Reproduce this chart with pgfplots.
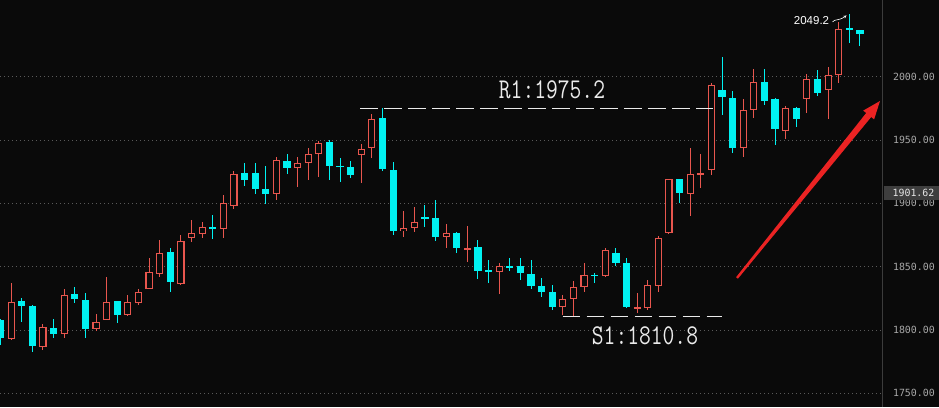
\documentclass[border=0pt]{standalone}
\usepackage{fontspec}
\newfontfamily\tickfont{DejaVu Sans Mono}
\newfontfamily\smallsans{Liberation Sans}
\usepackage{graphicx}
\usepackage{pgfplots}
\usepackage{pgfplotstable}
\pgfplotsset{compat=1.18}
\usetikzlibrary{arrows.meta}
\definecolor{bg}{HTML}{0A0A0A}
\definecolor{upred}{HTML}{E8564E}
\definecolor{downcyan}{HTML}{00F2F2}
\definecolor{gridgray}{HTML}{5A5A5A}
\definecolor{tickgray}{HTML}{A8A8A8}
\definecolor{sepgray}{HTML}{3C3C3C}
\definecolor{boxgray}{HTML}{3E3E3E}
\definecolor{arrowred}{HTML}{EB2323}

% k = candle index, o h l c
\pgfplotstableread{
k o h l c
1 1792.6 1837.3 1792.0 1822.3
4 1786.3 1804.6 1784.1 1802.5
6 1796.8 1832.3 1793.8 1827.6
9 1800.9 1812.6 1799.4 1806.2
10 1808.0 1842.0 1807.5 1822.0
12 1811.8 1827.6 1811.3 1822.0
13 1821.5 1832.3 1819.6 1829.9
14 1832.3 1857.0 1832.0 1845.7
15 1844.1 1871.0 1842.0 1860.7
17 1836.0 1875.0 1835.5 1870.2
18 1872.4 1886.8 1869.7 1876.3
19 1875.5 1885.0 1872.4 1881.0
21 1879.5 1906.6 1872.8 1900.0
22 1897.9 1925.5 1895.5 1923.1
26 1907.1 1936.8 1902.6 1934.2
28 1928.1 1936.3 1913.1 1931.8
29 1931.6 1943.9 1918.4 1938.9
30 1938.7 1949.4 1920.5 1947.4
34 1938.4 1946.6 1915.8 1943.1
35 1943.4 1970.5 1935.5 1966.6
38 1877.9 1893.9 1873.6 1880.2
39 1880.2 1897.1 1877.6 1885.0
42 1873.1 1883.6 1864.5 1876.3
44 1863.1 1882.1 1853.4 1864.5
47 1845.5 1852.6 1828.1 1850.7
53 1817.8 1827.3 1812.0 1824.2
54 1824.2 1838.9 1810.8 1833.6
55 1833.6 1853.1 1830.2 1843.1
57 1842.3 1864.9 1842.0 1862.9
60 1817.0 1829.4 1813.6 1817.8
61 1817.5 1839.4 1815.7 1835.2
62 1834.9 1874.4 1830.2 1872.4
63 1876.5 1919.3 1875.8 1919.0
65 1907.6 1943.4 1890.2 1922.9
66 1923.2 1938.7 1911.8 1923.6
67 1926.1 1994.8 1922.4 1993.4
70 1943.4 1982.6 1936.8 1973.7
71 1973.7 2005.8 1967.1 1995.8
74 1957.3 1977.1 1950.6 1975.0
76 1982.1 2001.9 1971.6 1997.9
78 1989.5 2007.9 1966.4 2001.3
79 2001.3 2043.4 1994.8 2037.7
}\upT

\pgfplotstableread{
k o h l c
0 1807.8 1809.0 1788.0 1793.6
2 1822.8 1825.2 1806.5 1818.9
3 1819.1 1819.6 1782.8 1787.3
5 1801.5 1808.6 1793.8 1796.8
7 1828.3 1834.1 1821.5 1824.4
8 1823.6 1829.1 1793.6 1800.7
11 1822.8 1823.0 1805.2 1811.8
16 1861.8 1864.9 1830.2 1838.1
20 1881.0 1890.8 1871.6 1880.5
23 1923.7 1932.1 1913.7 1918.4
24 1923.7 1932.1 1907.1 1911.5
25 1911.3 1929.5 1899.2 1907.1
27 1933.4 1938.9 1922.9 1928.1
31 1948.4 1950.0 1918.4 1929.7
32 1929.3 1935.5 1917.0 1928.9
33 1928.4 1933.4 1920.2 1922.6
36 1967.1 1975.2 1925.7 1927.1
37 1926.3 1932.6 1875.0 1878.4
40 1888.9 1898.7 1881.5 1888.5
41 1888.6 1902.6 1870.5 1873.6
43 1876.8 1877.3 1861.0 1864.9
45 1865.2 1871.0 1840.0 1846.8
46 1846.7 1855.2 1837.3 1846.3
48 1850.1 1856.6 1846.5 1849.7
49 1850.5 1856.6 1839.4 1844.7
50 1844.1 1855.2 1832.3 1834.9
51 1834.7 1840.7 1825.7 1830.2
52 1829.9 1835.5 1815.7 1817.8
56 1843.3 1845.2 1836.8 1842.9
58 1860.7 1864.4 1850.5 1853.1
59 1852.6 1856.6 1817.5 1817.8
64 1919.0 1919.3 1900.0 1908.4
68 1989.5 2015.3 1969.7 1983.7
69 1983.2 1988.7 1940.0 1943.4
72 1995.8 2006.0 1977.6 1981.0
73 1982.6 1983.2 1946.0 1958.4
75 1975.5 1976.0 1960.0 1966.6
77 1998.2 2005.3 1984.8 1987.4
80 2037.9 2049.2 2026.4 2037.5
81 2036.9 2037.0 2024.5 2033.7
}\downT

\begin{document}
\begin{tikzpicture}
\fill[bg] (0pt,0pt) rectangle (939pt,407pt);
\begin{axis}[
  at={(0pt,0pt)}, anchor=south west,
  scale only axis, width=882pt, height=407pt,
  xmin=-0.05, xmax=83.08, ymin=1739.1, ymax=2060.6,
  axis line style={draw=none},
  xtick=\empty,
  ytick={1750,1800,1850,1900,1950,2000},
  yticklabel pos=right,
  major tick length=0pt,
  ymajorgrids,
  grid style={draw=gridgray, line width=0.8pt, dash pattern=on 1pt off 3pt},
  yticklabel style={font={\tickfont\fontsize{9.9}{10}\selectfont}, text=tickgray, anchor=west, xshift=7.5pt},
  /pgf/number format/.cd, fixed, fixed zerofill, precision=2, 1000 sep={}, assume math mode=true,
]
% wicks
\addplot[draw=none, mark=none, error bars/.cd, y dir=both, y explicit, error mark=none,
  error bar style={draw=upred, line width=1pt}]
  table[x=k, y expr={(\thisrow{h}+\thisrow{l})/2}, y error expr={(\thisrow{h}-\thisrow{l})/2}] {\upT};
\addplot[draw=none, mark=none, error bars/.cd, y dir=both, y explicit, error mark=none,
  error bar style={draw=downcyan, line width=1pt}]
  table[x=k, y expr={(\thisrow{h}+\thisrow{l})/2}, y error expr={(\thisrow{h}-\thisrow{l})/2}] {\downT};
% bodies
\addplot[draw=none, mark=none, error bars/.cd, y dir=both, y explicit, error mark=none,
  error bar style={draw=upred, line width=7.2pt}]
  table[x=k, y expr={(\thisrow{o}+\thisrow{c})/2}, y error expr={max(abs(\thisrow{c}-\thisrow{o})/2,0.45)}] {\upT};
\addplot[draw=none, mark=none, error bars/.cd, y dir=both, y explicit, error mark=none,
  error bar style={draw=bg, line width=5pt}]
  table[x=k, y expr={(\thisrow{o}+\thisrow{c})/2}, y error expr={max(abs(\thisrow{c}-\thisrow{o})/2-0.85,0)}] {\upT};
\addplot[draw=none, mark=none, error bars/.cd, y dir=both, y explicit, error mark=none,
  error bar style={draw=downcyan, line width=7.2pt}]
  table[x=k, y expr={(\thisrow{o}+\thisrow{c})/2}, y error expr={max(abs(\thisrow{c}-\thisrow{o})/2,0.45)}] {\downT};
\end{axis}
% separator
\draw[sepgray, line width=1pt] (882.5pt,0pt) -- (882.5pt,407pt);
% current price box
\fill[boxgray] (884pt,207pt) rectangle (938.5pt,221.3pt);
\node[text=white!90!black, inner sep=0pt, anchor=center] at (913.5pt,214pt) {\tickfont\fontsize{9.9}{10}\selectfont 1901.62};
% R1 / S1 lines
\draw[white!92!black, line width=1pt, dash pattern=on 18pt off 6pt] (360pt,298.5pt) -- (713pt,298.5pt);
\draw[white!92!black, line width=1pt, dash pattern=on 17.3pt off 6.7pt] (562.7pt,91pt) -- (722pt,91pt);
\node[text=white!92!black, inner sep=0pt] at (552pt,317pt) {\scalebox{1}[1.25]{\fontsize{22.9}{24}\selectfont\ttfamily R1:1975.2}};
\node[text=white!92!black, inner sep=0pt] at (645pt,71pt) {\scalebox{1}[1.25]{\fontsize{22.9}{24}\selectfont\ttfamily S1:1810.8}};
% high label
\node[text=white, inner sep=0pt] at (811.5pt,386pt) {\smallsans\fontsize{11.5}{12}\selectfont 2049.2};
\draw[white, line width=0.6pt, -{Stealth[length=3pt,width=3pt]}] (832.5pt,385pt) .. controls (835pt,388.5pt) and (838pt,385.5pt) .. (846.5pt,391.5pt);
% red arrow
\fill[arrowred] (736.1pt,129.8pt) -- (866.2pt,294.0pt) -- (863.2pt,296.4pt) -- (880pt,306pt) -- (874.1pt,287.6pt) -- (871.2pt,290.0pt) -- (737.9pt,128.3pt) -- cycle;
\pgfresetboundingbox
\useasboundingbox (0pt,0pt) rectangle (939pt,407pt);
\end{tikzpicture}
\end{document}
